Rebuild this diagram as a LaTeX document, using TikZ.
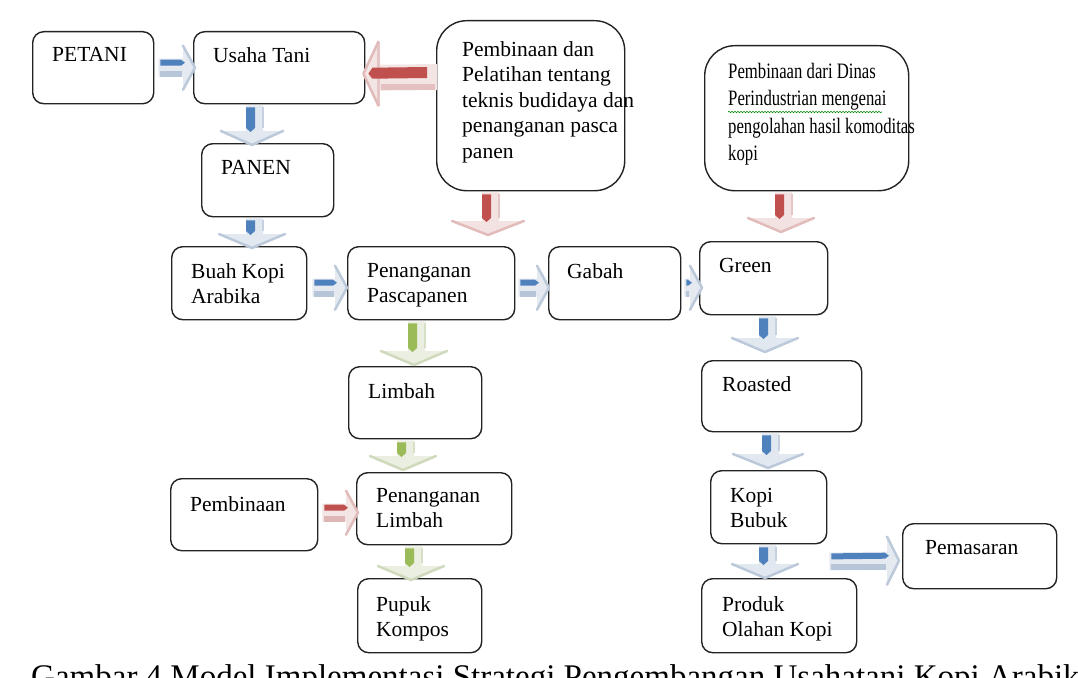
\documentclass[tikz,border=0pt]{standalone}
\usepackage{fontspec}
\setmainfont{Liberation Serif}
\newfontfamily\condserif[FakeStretch=0.76]{Liberation Serif}
\usetikzlibrary{calc,decorations.pathmorphing}
\definecolor{dblue}{RGB}{79,129,189}
\definecolor{pblue}{RGB}{150,172,200}
\definecolor{dred}{RGB}{192,80,77}
\definecolor{pred}{RGB}{210,150,150}
\definecolor{dgreen}{RGB}{155,187,89}
\definecolor{pgreen}{RGB}{180,198,150}
\definecolor{boxline}{RGB}{35,35,35}
% down arrow: #1 start, #2 tip, #3 dark, #4 pale, #5 half head
\newcommand{\varr}[5]{%
  \coordinate (as) at #1; \coordinate (ae) at #2;
  \coordinate (ah) at ($(ae)+(0,-14)$);
  \fill[#4!28] ($(as)+(-6,0)$) -- ($(as)+(11,0)$) -- ($(ah)+(11,0)$) -- ($(ah)+(#5,0)$) -- (ae) -- ($(ah)+(-#5,0)$) -- ($(ah)+(-6,0)$) -- cycle;
  \draw[#4!65, line width=2.5pt, line join=round, line cap=round] ($(ah)+(-#5,0)$) -- (ae) -- ($(ah)+(#5,0)$);
  \draw[#4!55, line width=1.5pt] ($(as)+(11,2)$) -- ($(ah)+(11,-3)$);
  \fill[#3] ($(as)+(-6,2)$) -- ($(as)+(3,2)$) -- ($(ah)+(3,-3)$) -- ($(ah)+(-1.5,1)$) -- ($(ah)+(-6,-3)$) -- cycle;
}
% right arrow
\newcommand{\rarr}[5]{%
  \coordinate (as) at #1; \coordinate (ae) at #2;
  \coordinate (ah) at ($(ae)+(-12,0)$);
  \fill[#4!25] ($(as)+(0,-9)$) -- ($(ah)+(0,-9)$) -- ($(ah)+(0,-#5)$) -- (ae) -- ($(ah)+(0,#5)$) -- ($(ah)+(0,9)$) -- ($(as)+(0,9)$) -- cycle;
  \draw[#4!65, line width=2.5pt, line join=round, line cap=round] ($(ah)+(0,-#5)$) -- (ae) -- ($(ah)+(0,#5)$);
  \fill[#4!70] ($(as)+(2,3)$) rectangle ($(ah)+(-1,9)$);
  \fill[#3] ($(as)+(2,-8)$) -- ($(ah)+(-2,-8)$) -- ($(ah)+(2,-5)$) -- ($(ah)+(-2,-2)$) -- ($(as)+(2,-2)$) -- cycle;
}
% left arrow
\newcommand{\larr}[5]{%
  \coordinate (as) at #1; \coordinate (ae) at #2;
  \coordinate (ah) at ($(ae)+(15,0)$);
  \fill[#4!25] ($(as)+(0,-9)$) -- ($(ah)+(0,-9)$) -- ($(ah)+(0,-#5)$) -- (ae) -- ($(ah)+(0,#5)$) -- ($(ah)+(0,17)$) -- ($(as)+(0,17)$) -- cycle;
  \draw[#4!55, line width=2.5pt] ($(ah)+(0,-#5)$) -- ($(ah)+(0,#5)$);
  \draw[#4!65, line width=2.5pt, line join=round, line cap=round] ($(ah)+(0,-#5)$) -- (ae) -- ($(ah)+(0,#5)$);
  \fill[#4!60] ($(ah)+(3,10)$) rectangle ($(as)+(-2,17)$);
  \fill[#3] ($(ae)+(9,-6)$) -- ($(as)+(-10,-6)$) -- ($(as)+(-10,5)$) -- ($(ae)+(9,5)$) -- ($(ae)+(5,0)$) -- cycle;
}
\begin{document}
\begin{tikzpicture}[x=1pt,y=-1pt,
  box/.style={draw=boxline, line width=1.4pt, rounded corners=11pt, fill=white, inner sep=0pt, anchor=north west},
  bigbox/.style={box, rounded corners=30pt},
  txt/.style={font=\fontsize{21.5}{25.5}\selectfont, align=left, inner sep=0pt, anchor=north west}]
\useasboundingbox (0,0) rectangle (1078,677);
\clip (0,0) rectangle (1078,677);
\fill[white] (0,0) rectangle (1078,677);

% boxes
\node[box, minimum width=121pt, minimum height=72pt] (petani) at (32,31) {};
\node[box, minimum width=171pt, minimum height=72pt] (usaha) at (193,31) {};
\node[bigbox, minimum width=188pt, minimum height=170pt] (pbox1) at (436,20) {};
\node[bigbox, minimum width=204pt, minimum height=145pt] (pbox2) at (704,45) {};
\node[box, minimum width=132pt, minimum height=73pt] (panen) at (201,143) {};
\node[box, minimum width=135pt, minimum height=73pt] (buah) at (171,246) {};
\node[box, minimum width=167pt, minimum height=73pt] (pena) at (347,246) {};
\node[box, minimum width=132pt, minimum height=73pt] (gabah) at (548,246) {};
\node[box, minimum width=128pt, minimum height=73pt] (green) at (699,241) {};
\node[box, minimum width=133pt, minimum height=72pt] (limbah) at (348,366) {};
\node[box, minimum width=160pt, minimum height=71pt] (roasted) at (701,360) {};
\node[box, minimum width=147pt, minimum height=72pt] (pemb) at (170,478) {};
\node[box, minimum width=155pt, minimum height=72pt] (penl) at (356,472) {};
\node[box, minimum width=116pt, minimum height=73pt] (kopib) at (710,470) {};
\node[box, minimum width=154pt, minimum height=65pt] (pemas) at (902,523) {};
\node[box, minimum width=124pt, minimum height=74pt] (pupuk) at (357,578) {};
\node[box, minimum width=155pt, minimum height=74pt] (produk) at (701,578) {};

% texts
\node[txt] (t-petani) at ($(petani.north west)+(20,16)$) {PETANI};
\node[txt] (t-usaha) at ($(usaha.north west)+(20,16)$) {Usaha Tani};
\node[txt] (t-pbox1) at ($(pbox1.north west)+(26,21)$) {Pembinaan dan\\Pelatihan tentang\\teknis budidaya dan\\penanganan pasca\\panen};
\node[txt, font=\condserif\fontsize{22}{27.5}\selectfont] (t-pbox2) at ($(pbox2.north west)+(24,18)$) {Pembinaan dari Dinas\\Perindustrian mengenai\\pengolahan hasil komoditas\\kopi};
\node[txt] (t-panen) at ($(panen.north west)+(20,17)$) {PANEN};
\node[txt] (t-buah) at ($(buah.north west)+(20,17)$) {Buah Kopi\\Arabika};
\node[txt] (t-pena) at ($(pena.north west)+(20,17)$) {Penanganan\\Pascapanen};
\node[txt] (t-gabah) at ($(gabah.north west)+(19,17)$) {Gabah};
\node[txt] (t-green) at ($(green.north west)+(20,17)$) {Green};
\node[txt] (t-limbah) at ($(limbah.north west)+(20,17)$) {Limbah};
\node[txt] (t-roasted) at ($(roasted.north west)+(21,16)$) {Roasted};
\node[txt] (t-pemb) at ($(pemb.north west)+(20,18)$) {Pembinaan};
\node[txt] (t-penl) at ($(penl.north west)+(20,16)$) {Penanganan\\Limbah};
\node[txt] (t-kopib) at ($(kopib.north west)+(20,18)$) {Kopi\\Bubuk};
\node[txt] (t-pemas) at ($(pemas.north west)+(23,17)$) {Pemasaran};
\node[txt] (t-pupuk) at ($(pupuk.north west)+(19,18)$) {Pupuk\\Kompos};
\node[txt] (t-produk) at ($(produk.north west)+(21,18)$) {Produk\\Olahan Kopi};

\draw[green!55!black, line width=0.6pt, decorate, decoration={snake, amplitude=0.7pt, segment length=3pt}]
  ($(t-pbox2.north west)+(0,49)$) -- ++(154,0);

% arrows
\rarr{($(petani.east)+(4,0)$)}{($(usaha.west)+(2,0)$)}{dblue}{pblue}{22}
\larr{($(pbox1.north west)+(1,53)$)}{($(usaha.east)+(-2,6)$)}{dred}{pred}{32}
\varr{($(usaha.south west)+(59,1)$)}{($(panen.north west)+(51,2)$)}{dblue}{pblue}{31}
\varr{($(panen.south west)+(51,1)$)}{($(buah.north west)+(81,2)$)}{dblue}{pblue}{33}
\varr{($(pbox1.south west)+(52,1)$)}{($(pena.north west)+(141,-11)$)}{dred}{pred}{36}
\varr{($(pbox2.south west)+(77,1)$)}{($(green.north west)+(82,-9)$)}{dred}{pred}{33}
\rarr{($(buah.east)+(5,4.5)$)}{($(pena.west)+(0,4.5)$)}{dblue}{pblue}{22}
\rarr{($(pena.east)+(3,4.5)$)}{($(gabah.west)+(1,4.5)$)}{dblue}{pblue}{22}
\rarr{($(gabah.east)+(3,4.5)$)}{($(green.west)+(3,9.5)$)}{dblue}{pblue}{22}
\varr{($(pena.south west)+(67,1)$)}{($(limbah.north west)+(66,-1)$)}{dgreen}{pgreen}{33}
\varr{($(green.south west)+(66,1)$)}{($(roasted.north west)+(64,-8)$)}{dblue}{pblue}{33}
\varr{($(limbah.south west)+(55,1)$)}{($(penl.north west)+(47,-2)$)}{dgreen}{pgreen}{33}
\rarr{($(pemb.east)+(4,-2)$)}{($(penl.west)+(2,4)$)}{dred}{pred}{22}
\varr{($(penl.south west)+(55,1)$)}{($(pupuk.north west)+(54,2)$)}{dgreen}{pgreen}{33}
\varr{($(roasted.south west)+(67,1)$)}{($(kopib.north west)+(58,-2)$)}{dblue}{pblue}{35}
\varr{($(kopib.south west)+(55,1)$)}{($(produk.north west)+(64,0)$)}{dblue}{pblue}{33}
\rarr{($(kopib.south east)+(2,17)$)}{($(pemas.west)+(-3,4.5)$)}{dblue}{pblue}{24}

% caption (cut by the page edge, as in the reference)
\node[anchor=north west, inner sep=0pt, font=\fontsize{33}{38}\selectfont] (caption) at (31,664)
  {Gambar 4 Model Implementasi Strategi Pengembangan Usahatani Kopi Arabika};
\end{tikzpicture}
\end{document}
